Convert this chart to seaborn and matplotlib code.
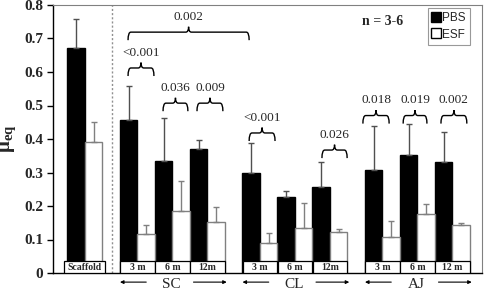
import numpy as np
import pandas as pd
import matplotlib
matplotlib.use("Agg")
import matplotlib.pyplot as plt
from matplotlib.path import Path
from matplotlib.patches import PathPatch, Rectangle
from matplotlib.lines import Line2D
import seaborn as sns

# ---------------- data ----------------
groups = ["Scaffold", "SC", "SC", "SC", "CL", "CL", "CL", "AJ", "AJ", "AJ"]
time_labels = ["Scaffold", "3 m", "6 m", "12m", "3 m", "6 m", "12m", "3 m", "6 m", "12 m"]
pbs_mean = [0.672, 0.458, 0.335, 0.370, 0.300, 0.227, 0.257, 0.307, 0.352, 0.330]
pbs_err = [0.086, 0.100, 0.127, 0.027, 0.088, 0.018, 0.074, 0.132, 0.093, 0.091]
esf_mean = [0.391, 0.116, 0.186, 0.153, 0.090, 0.135, 0.122, 0.107, 0.176, 0.143]
esf_err = [0.059, 0.027, 0.090, 0.044, 0.029, 0.075, 0.009, 0.048, 0.030, 0.006]
treatments = ["PBS", "ESF"]
group_names = ["SC", "CL", "AJ"]
# brackets: (bar index start, offset, bar index end, offset, height, label)
brackets = [
    (1, -0.27, 1, 0.47, 0.612, "<0.001"),
    (2, -0.27, 2, 0.44, 0.507, "0.036"),
    (3, -0.30, 3, 0.44, 0.507, "0.009"),
    (1, -0.27, 4, -0.31, 0.719, "0.002"),
    (4, -0.31, 4, 0.43, 0.418, "<0.001"),
    (6, -0.23, 6, 0.49, 0.367, "0.026"),
    (7, -0.56, 7, 0.19, 0.470, "0.018"),
    (8, -0.41, 8, 0.27, 0.470, "0.019"),
    (9, -0.33, 9, 0.41, 0.470, "0.002"),
]

# ---------------- layout positions (gap between groups) ----------------
pos = []
p = 0.0
for i, g in enumerate(groups):
    if i > 0:
        p += 1.5 if g != groups[i - 1] else 1.0
    pos.append(p)
pos = np.array(pos)

df = pd.DataFrame({
    "pos": np.concatenate([pos, pos]),
    "value": np.concatenate([pbs_mean, esf_mean]),
    "treatment": [treatments[0]] * len(pos) + [treatments[1]] * len(pos),
})

sns.set_style("white")
plt.rcParams["font.family"] = ["Liberation Serif", "DejaVu Serif"]
plt.rcParams["mathtext.fontset"] = "custom"
plt.rcParams["mathtext.rm"] = "Liberation Serif"
plt.rcParams["mathtext.bf"] = "Liberation Serif:bold"

fig = plt.figure(figsize=(4.86, 2.90), dpi=100)
ax = fig.add_axes([53 / 486, 1 - 273 / 290, (482 - 53) / 486, (273 - 5) / 290])

sns.barplot(data=df, x="pos", y="value", hue="treatment", hue_order=treatments,
            native_scale=True, width=1.0, dodge=True, errorbar=None,
            palette={"PBS": "black", "ESF": "white"}, linewidth=1.0,
            edgecolor="black", legend=False, ax=ax, zorder=2)
for patch in ax.patches:
    fc = patch.get_facecolor()
    if fc[0] > 0.5:
        patch.set_edgecolor("#808080")
    else:
        patch.set_edgecolor("black")

zeros = np.zeros(len(pos))
ax.errorbar(pos - 0.25, pbs_mean, yerr=[zeros, pbs_err], fmt="none",
            ecolor="#505050", elinewidth=1.0, capsize=2.5, capthick=1.0, zorder=3)
ax.errorbar(pos + 0.25, esf_mean, yerr=[zeros, esf_err], fmt="none",
            ecolor="#808080", elinewidth=1.0, capsize=2.5, capthick=1.0, zorder=3)

# label boxes at the bottom
for i, (x, lab) in enumerate(zip(pos, time_labels)):
    if i == 0:
        x0, w = x - 0.6, 1.17
    else:
        x0, w = x - 0.49, 0.98
    ax.add_patch(Rectangle((x0, 0.001), w, 0.034, facecolor="white",
                           edgecolor="black", linewidth=0.9, zorder=4))
    ax.text(x0 + w / 2, 0.017, lab, ha="center", va="center", fontsize=7,
            fontweight="bold", zorder=5)

# dotted separator
ax.axvline(pos[0] + 0.77, color="#909090", linestyle=(0, (1.5, 1.5)), lw=1.0, zorder=1)


def brace(x1, x2, y, label, hd=0.024, hu=0.016, r=0.08):
    xm = (x1 + x2) / 2
    verts = [(x1, y - hd), (x1, y), (x1 + r, y),
             (xm - r, y), (xm, y), (xm, y + hu),
             (xm, y), (xm + r, y),
             (x2 - r, y), (x2, y), (x2, y - hd)]
    codes = [Path.MOVETO, Path.CURVE3, Path.CURVE3,
             Path.LINETO, Path.CURVE3, Path.CURVE3,
             Path.CURVE3, Path.CURVE3,
             Path.LINETO, Path.CURVE3, Path.CURVE3]
    ax.add_patch(PathPatch(Path(verts, codes), fill=False, edgecolor="black",
                           lw=1.0, zorder=5))
    ax.text(xm, y + 0.045, label, ha="center", va="center", fontsize=9.5, zorder=5)


for i1, o1, i2, o2, y, lab in brackets:
    brace(pos[i1] + o1, pos[i2] + o2, y, lab)

# group labels with arrows below axis
trans = ax.get_xaxis_transform()
for g in group_names:
    idx = [i for i, gg in enumerate(groups) if gg == g]
    c = pos[idx].mean()
    ax.text(c - 0.03, -0.042, g, transform=trans, ha="center", va="center",
            fontsize=11, clip_on=False)
    ax.annotate("", xy=(c - 1.5, -0.034), xytext=(c - 0.75, -0.034), xycoords=trans,
                textcoords=trans, arrowprops=dict(arrowstyle="-|>", lw=0.8, color="black",
                                                   mutation_scale=5, shrinkA=0, shrinkB=0))
    ax.annotate("", xy=(c + 1.55, -0.034), xytext=(c + 0.6, -0.034), xycoords=trans,
                textcoords=trans, arrowprops=dict(arrowstyle="-|>", lw=0.8, color="black",
                                                   mutation_scale=5, shrinkA=0, shrinkB=0))

ax.set_xlim(-0.914, 11.343)
ax.set_ylim(0, 0.8)
ax.set_xticks([])
ax.set_xlabel("")
ax.set_yticks(np.arange(0, 0.81, 0.1))
ax.set_yticklabels(["0"] + [f"{v:.1f}" for v in np.arange(0.1, 0.81, 0.1)],
                   fontsize=11, fontweight="bold")
ax.tick_params(axis="y", direction="out", length=4, width=1, color="black", pad=3, left=True)
ax.set_ylabel(r"$\mathbf{\mu}_{\mathbf{eq}}$", fontsize=15, labelpad=4)

for s in ["left", "bottom"]:
    ax.spines[s].set_color("black")
    ax.spines[s].set_linewidth(1.0)
for s in ["top", "right"]:
    ax.spines[s].set_color("#808080")
    ax.spines[s].set_linewidth(0.8)

ax.text(0.768, 0.937, "n = 3-6", transform=ax.transAxes, ha="center", va="center",
        fontsize=10, fontweight="bold")

handles = [Line2D([], [], marker="s", linestyle="none", markerfacecolor=c,
                  markeredgecolor="black", markersize=7, markeredgewidth=1.0)
           for c in ["black", "white"]]
leg = ax.legend(handles, treatments, loc="upper right", bbox_to_anchor=(0.972, 0.99),
                frameon=True, fancybox=False, borderpad=0.35, handlelength=0.7,
                handletextpad=0.2, labelspacing=0.4, borderaxespad=0,
                prop={"family": "Liberation Sans", "size": 8.5})
leg.get_frame().set_edgecolor("#808080")
leg.get_frame().set_linewidth(0.8)

fig.savefig("out.png", dpi=100)
